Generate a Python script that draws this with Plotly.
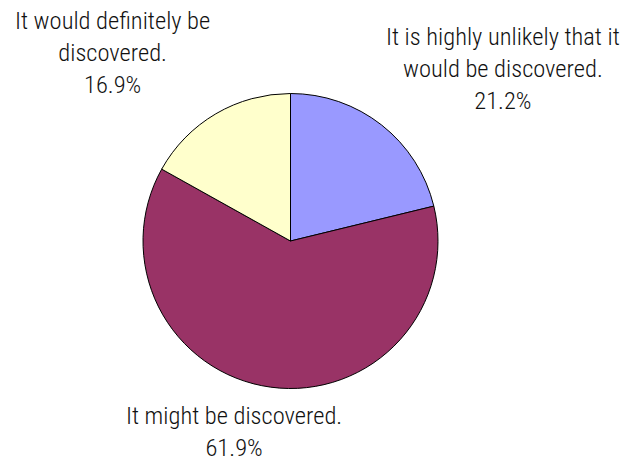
import plotly.graph_objects as go

# Survey answers and their shares (%)
categories = [
    "It is highly unlikely that it<br>would be discovered.",
    "It might be discovered.",
    "It would definitely be<br>discovered.",
]
shares = [21.2, 61.9, 16.9]
colors = ["#9999FF", "#993366", "#FFFFCC"]

# Label anchor points (paper coordinates) for each slice
label_x = [503 / 625, 234 / 625, 112 / 625]
label_y = [1 - 68 / 461, 1 - 431 / 461, 1 - 53 / 461]

W, H = 625, 461
cx, cy, r = 290.5, 241, 147.5

fig = go.Figure(
    go.Pie(
        labels=categories,
        values=shares,
        marker=dict(colors=colors, line=dict(color="black", width=1)),
        sort=False,
        direction="clockwise",
        rotation=0,
        textinfo="none",
        hoverinfo="label+percent",
        showlegend=False,
        domain=dict(
            x=[(cx - r) / W, (cx + r) / W],
            y=[(H - cy - r) / H, (H - cy + r) / H],
        ),
    )
)

font = dict(family="Roboto Condensed, DejaVu Sans Condensed, Liberation Sans Narrow, Arial Narrow, sans-serif",
            size=24.5, weight=300, color="#111111")
for cat, val, x, y in zip(categories, shares, label_x, label_y):
    fig.add_annotation(
        x=x, y=y, xref="paper", yref="paper",
        text=f"{cat}<br>{val:.1f}%",
        showarrow=False, align="center",
        xanchor="center", yanchor="middle",
        borderpad=0,
        font=font,
    )

fig.update_layout(
    width=W, height=H,
    margin=dict(l=0, r=0, t=0, b=0),
    paper_bgcolor="white",
    plot_bgcolor="white",
)

fig.write_html("out.html")
